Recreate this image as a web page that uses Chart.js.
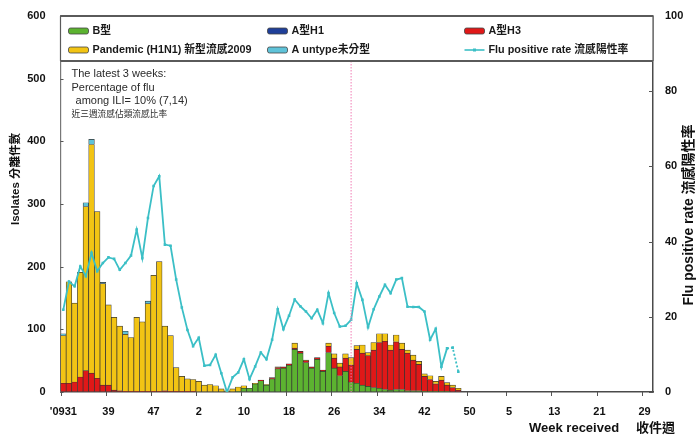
<!DOCTYPE html>
<html>
<head>
<meta charset="utf-8">
<script src="https://cdn.jsdelivr.net/npm/chart.js@4/dist/chart.umd.min.js"></script>
<style>
  html, body { margin: 0; padding: 0; background: #fff; }
  #wrap { position: relative; width: 697px; height: 435px; }
</style>
</head>
<body>
<div id="wrap"><canvas id="chart" width="697" height="435"></canvas></div>
<script>
// Week received (year-week), 2009 W31 to 2011 W30
const weeks = [
  '2009-31','2009-32','2009-33','2009-34','2009-35','2009-36','2009-37','2009-38','2009-39','2009-40',
  '2009-41','2009-42','2009-43','2009-44','2009-45','2009-46','2009-47','2009-48','2009-49','2009-50',
  '2009-51','2009-52','2009-53',
  '2010-1','2010-2','2010-3','2010-4','2010-5','2010-6','2010-7','2010-8','2010-9','2010-10',
  '2010-11','2010-12','2010-13','2010-14','2010-15','2010-16','2010-17','2010-18','2010-19','2010-20',
  '2010-21','2010-22','2010-23','2010-24','2010-25','2010-26','2010-27','2010-28','2010-29','2010-30',
  '2010-31','2010-32','2010-33','2010-34','2010-35','2010-36','2010-37','2010-38','2010-39','2010-40',
  '2010-41','2010-42','2010-43','2010-44','2010-45','2010-46','2010-47','2010-48','2010-49','2010-50',
  '2010-51','2010-52',
  '2011-1','2011-2','2011-3','2011-4','2011-5','2011-6','2011-7','2011-8','2011-9','2011-10',
  '2011-11','2011-12','2011-13','2011-14','2011-15','2011-16','2011-17','2011-18','2011-19','2011-20',
  '2011-21','2011-22','2011-23','2011-24','2011-25','2011-26','2011-27','2011-28','2011-29','2011-30'
];

// Weeks that carry an axis label, and the label text
const tickWeeks = ['2009-31','2009-39','2009-47','2010-2','2010-10','2010-18','2010-26',
                   '2010-34','2010-42','2010-50','2011-5','2011-13','2011-21','2011-29'];
const tickText  = ["'0931",'39','47','2','10','18','26','34','42','50','5','13','21','29'];

// Isolates per week
const fluB = [
  0,0,0,0,0,0,0,0,0,0, 0,0,0,0,0,0,0,0,0,0, 0,0,0,0,0,0,0,0,0,0,
  0,1,6,6,13,18,11,21,37,38, 43,68,62,47,38,52,33,63,38,26,
  33,16,14,11,9,7,6,4,3,4, 4,2,2,2,1,1,1,1,1,0, 0
];
const fluAH1 = [
  0,0,0,0,0,0,0,0,0,0, 0,0,0,0,0,0,0,0,0,0, 0,0,0,0,0,0,0,0,0,0,
  0,0,0,0,0,0,0,0,0,0, 0,0,0,0,0,0,0,0,0,0, 0,0,0,0,0,0,0,0,0,0,
  0,0,0,0,0,0,0,0,0,0, 0
];
const fluAH3 = [
  14,14,16,24,34,30,22,11,11,3, 2,1,1,1,1,1,1,1,2,1, 1,1,1,1,0,0,0,0,0,0,
  0,0,0,0,0,1,0,2,2,2, 2,2,3,3,2,3,2,10,16,14,
  21,27,54,51,49,60,73,77,64,76, 64,60,49,42,24,19,12,18,10,7, 3
];
const pandemicH1N1 = [
  76,162,126,167,262,365,266,162,128,116, 103,91,86,118,111,140,185,207,103,89,
  38,24,20,19,17,11,12,10,5,2, 5,7,4,0,1,0,1,0,1,0,
  0,8,0,1,0,0,0,5,7,6, 7,12,6,13,5,12,14,12,8,11,
  10,5,8,5,4,6,4,6,4,4, 3
];
const fluAUntyped = [
  3,0,0,0,6,8,0,2,0,0, 0,5,0,0,0,4,0,0,0,0, 0,0,0,0,0,0,0,0,0,0,
  0,0,0,0,0,0,0,0,0,0, 0,0,0,0,0,0,0,0,0,0, 0,0,0,0,0,0,0,0,0,0,
  0,0,0,0,0,0,0,0,0,0, 0
];

// Flu positive rate (%)
const positiveRate = [
  21.9,29.4,28.1,33.4,30.8,37.0,32.1,34.3,35.8,35.4, 32.5,34.3,36.3,43.2,35.6,46.3,54.8,57.4,39.2,38.9,
  29.9,22.5,16.5,12.2,14.4,7.0,7.2,9.9,5.0,0.0, 3.9,5.2,8.7,3.4,6.8,10.5,8.7,13.9,22.0,16.7,
  20.3,24.6,22.8,21.4,19.6,21.9,18.3,26.3,21.0,17.4, 17.6,19.2,28.9,24.5,17.2,22.0,25.4,28.5,26.3,29.9,
  30.3,22.7,22.6,22.6,21.4,13.9,16.8,6.7,11.6,11.8, 5.4
];
const provisionalFrom = 68;   // rate points from this week on are drawn dotted
const markerWeek = '2010-29'; // dotted reference line

const colors = {
  b: '#5cb330', h1: '#1f3f99', h3: '#e01818', pdm: '#f2c414', untyped: '#5fc3d9', rate: '#3bbfc6'
};
const latin = '"Liberation Sans", Arial, "Noto Sans CJK TC", sans-serif';

const overlay = {
  id: 'overlay',
  afterDatasetsDraw(chart) {
    const { ctx, chartArea: a, scales } = chart;
    const x = scales.x.getPixelForValue(weeks.indexOf(markerWeek));
    ctx.save();
    ctx.strokeStyle = '#f07cb4';
    ctx.lineWidth = 1;
    ctx.setLineDash([1.5, 1.5]);
    ctx.beginPath();
    ctx.moveTo(x, a.top + 45);
    ctx.lineTo(x, a.bottom);
    ctx.stroke();
    ctx.restore();
  },
  afterDraw(chart) {
    const { ctx, chartArea: a, scales } = chart;
    ctx.save();

    // tick marks: x ticks at the left edge of each labelled week, y ticks pointing inward
    ctx.strokeStyle = '#555';
    ctx.lineWidth = 1;
    ctx.beginPath();
    const half = (scales.x.getPixelForValue(1) - scales.x.getPixelForValue(0)) / 2;
    tickWeeks.forEach(w => {
      const px = Math.round(scales.x.getPixelForValue(weeks.indexOf(w)) - half) + 0.5;
      ctx.moveTo(px, a.bottom); ctx.lineTo(px, a.bottom + 4);
    });
    scales.y.ticks.forEach(t => {
      const py = Math.round(scales.y.getPixelForValue(t.value)) + 0.5;
      ctx.moveTo(a.left, py); ctx.lineTo(a.left + 3, py);
    });
    scales.y1.ticks.forEach(t => {
      const py = Math.round(scales.y1.getPixelForValue(t.value)) + 0.5;
      ctx.moveTo(a.right, py); ctx.lineTo(a.right - 4, py);
    });
    ctx.stroke();

    // legend box across the top of the plot
    ctx.fillStyle = '#fff';
    ctx.fillRect(a.left, a.top, a.right - a.left, 45);
    ctx.strokeStyle = '#5a5a5a';
    ctx.lineWidth = 2;
    ctx.beginPath();
    ctx.moveTo(a.left, a.top); ctx.lineTo(a.right, a.top);
    ctx.moveTo(a.left, a.top + 45); ctx.lineTo(a.right, a.top + 45);
    ctx.stroke();
    ctx.lineWidth = 1.2;
    ctx.beginPath();
    ctx.moveTo(a.left, a.top); ctx.lineTo(a.left, a.top + 45);
    ctx.moveTo(a.right, a.top); ctx.lineTo(a.right, a.top + 45);
    ctx.stroke();

    const items = [
      { label: 'B型', color: colors.b, col: 0, row: 0 },
      { label: 'A型H1', color: colors.h1, col: 1, row: 0 },
      { label: 'A型H3', color: colors.h3, col: 2, row: 0 },
      { label: 'Pandemic (H1N1) 新型流感2009', color: colors.pdm, col: 0, row: 1 },
      { label: 'A untype未分型', color: colors.untyped, col: 1, row: 1 },
      { label: 'Flu positive rate 流感陽性率', color: colors.rate, col: 2, row: 1, line: true }
    ];
    const colX = [a.left + 8, a.left + 207, a.left + 404];
    const rowY = [a.top + 15, a.top + 34];
    ctx.font = 'bold 10.8px ' + latin;
    ctx.textBaseline = 'middle';
    items.forEach(it => {
      const x = colX[it.col], y = rowY[it.row];
      if (it.line) {
        ctx.strokeStyle = it.color; ctx.lineWidth = 1.6;
        ctx.beginPath(); ctx.moveTo(x, y); ctx.lineTo(x + 20, y); ctx.stroke();
        ctx.fillStyle = it.color;
        ctx.fillRect(x + 8.5, y - 1.5, 3, 3);
      } else {
        ctx.fillStyle = it.color;
        ctx.strokeStyle = '#444'; ctx.lineWidth = 0.8;
        ctx.beginPath();
        ctx.roundRect(x, y - 3, 20, 6, 2);
        ctx.fill(); ctx.stroke();
      }
      ctx.fillStyle = '#1a1a1a';
      ctx.fillText(it.label, x + 24, y + 0.5);
    });

    // note on the latest three weeks
    ctx.font = '11px ' + latin;
    ctx.fillStyle = '#2a2a2a';
    ctx.fillText('The latest 3 weeks:', a.left + 11, a.top + 58);
    ctx.fillText('Percentage of flu', a.left + 11, a.top + 72);
    ctx.fillText(' among ILI= 10% (7,14)', a.left + 12, a.top + 85);
    ctx.font = '8.7px ' + latin;
    ctx.fillText('近三週流感佔類流感比率', a.left + 11, a.top + 99);

    // axis titles
    ctx.fillStyle = '#111';
    ctx.font = 'bold 11.5px ' + latin;
    ctx.textAlign = 'center';
    ctx.save();
    ctx.translate(16, 179);
    ctx.rotate(-Math.PI / 2);
    ctx.fillText('Isolates 分離件數', 0, 0);
    ctx.restore();

    ctx.font = 'bold 14px ' + latin;
    ctx.save();
    ctx.translate(689, 215);
    ctx.rotate(-Math.PI / 2);
    ctx.fillText('Flu positive rate 流感陽性率', 0, 0);
    ctx.restore();

    ctx.textAlign = 'left';
    ctx.font = 'bold 13px ' + latin;
    ctx.fillText('Week received', 529, 428);
    ctx.fillText('收件週', 636, 428);
    ctx.restore();
  }
};

const barStyle = { borderColor: '#333', borderWidth: 0.7, barPercentage: 1.0, categoryPercentage: 1.0, stack: 'isolates', order: 1 };
const tickFont = { family: latin, size: 11, weight: 'bold' };
// invisible tick marks that only set the gap between axis line and labels
const spacerGrid = len => ({ display: true, drawOnChartArea: false, drawTicks: true, tickLength: len, color: 'rgba(0,0,0,0)' });

new Chart(document.getElementById('chart'), {
  type: 'bar',
  data: {
    labels: weeks,
    datasets: [
      { label: 'B型', data: fluB, backgroundColor: colors.b, ...barStyle },
      { label: 'A型H1', data: fluAH1, backgroundColor: colors.h1, ...barStyle },
      { label: 'A型H3', data: fluAH3, backgroundColor: colors.h3, ...barStyle },
      { label: 'Pandemic (H1N1) 新型流感2009', data: pandemicH1N1, backgroundColor: colors.pdm, ...barStyle },
      { label: 'A untype未分型', data: fluAUntyped, backgroundColor: colors.untyped, ...barStyle },
      {
        type: 'line', label: 'Flu positive rate 流感陽性率', data: positiveRate, yAxisID: 'y1', order: 0,
        borderColor: colors.rate, backgroundColor: colors.rate, borderWidth: 1.8,
        pointRadius: 1.8, pointStyle: 'rect', pointBorderWidth: 0, tension: 0,
        segment: { borderDash: c => c.p0DataIndex >= provisionalFrom ? [2, 2] : undefined }
      }
    ]
  },
  options: {
    responsive: false,
    animation: false,
    layout: { padding: { top: 16, left: 0, right: 0, bottom: 0 } },
    plugins: { legend: { display: false }, tooltip: { enabled: false } },
    scales: {
      x: {
        stacked: true,
        offset: true,
        grid: { display: false },
        border: { color: '#4a4a4a', width: 1.5 },
        ticks: {
          autoSkip: false, maxRotation: 0, minRotation: 0, padding: 5, color: '#111', font: tickFont,
          callback: (v, i) => { const k = tickWeeks.indexOf(weeks[i]); return k >= 0 ? tickText[k] : null; }
        },
        afterFit: s => { s.height = 43; }
      },
      y: {
        stacked: true, min: 0, max: 600,
        grid: spacerGrid(12),
        border: { color: '#777', width: 1.2 },
        ticks: { stepSize: 100, padding: 3, color: '#111', font: tickFont },
        afterFit: s => { s.width = 60.5; }
      },
      y1: {
        position: 'right', min: 0, max: 100,
        grid: spacerGrid(9),
        border: { color: '#4a4a4a', width: 1.5 },
        ticks: { stepSize: 20, padding: 3, color: '#111', font: tickFont },
        afterFit: s => { s.width = 44; }
      }
    }
  },
  plugins: [overlay]
});
</script>
</body>
</html>
